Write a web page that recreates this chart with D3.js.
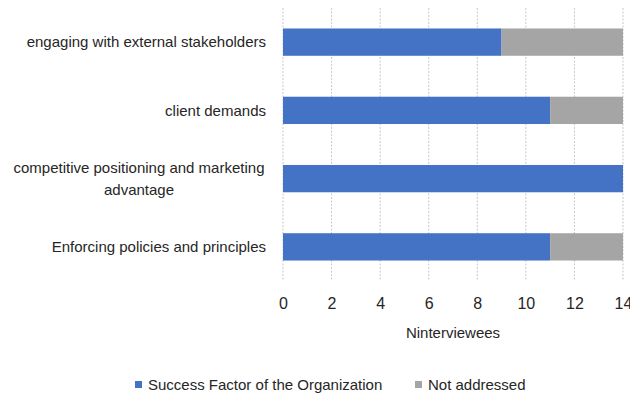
<!DOCTYPE html>
<html>
<head>
<meta charset="utf-8">
<script src="https://cdn.jsdelivr.net/npm/d3@7"></script>
<style>
  body { margin: 0; background: #fff; }
  text { font-family: "Liberation Sans", Arial, sans-serif; fill: #262626; }
</style>
</head>
<body>
<svg id="chart" width="630" height="399"></svg>
<script>
const categories = [
  ["engaging with external stakeholders"],
  ["client demands"],
  ["competitive positioning and marketing", "advantage"],
  ["Enforcing policies and principles"]
];
const successValues = [9, 11, 14, 11];
const notAddressedValues = [5, 3, 0, 3];
const seriesNames = ["Success Factor of the Organization", "Not addressed"];
const xTicks = [0, 2, 4, 6, 8, 10, 12, 14];
const colors = ["#4472C4", "#A5A5A5"];

const svg = d3.select("#chart");
const plotL = 283, plotR = 623, plotT = 8, plotB = 281;

const x = d3.scaleLinear().domain([0, 14]).range([plotL, plotR]);
const y = d3.scaleBand()
    .domain(d3.range(categories.length))
    .range([plotT, plotB])
    .paddingInner(0.6)
    .paddingOuter(0.3);

const rows = categories.map((c, i) => ({i: i, s: successValues[i], n: notAddressedValues[i]}));
const stack = d3.stack().keys(["s", "n"])(rows);

// grid
svg.append("g")
  .selectAll("line")
  .data(xTicks)
  .join("line")
    .attr("x1", d => x(d)).attr("x2", d => x(d))
    .attr("y1", plotT).attr("y2", plotB)
    .attr("stroke", "#c8c8c8")
    .attr("stroke-width", 1)
    .attr("stroke-dasharray", "2,1.5");

// bars
svg.append("g")
  .selectAll("g")
  .data(stack)
  .join("g")
    .attr("fill", (d, k) => colors[k])
  .selectAll("rect")
  .data(d => d)
  .join("rect")
    .attr("x", d => x(d[0]))
    .attr("y", d => y(d.data.i))
    .attr("width", d => x(d[1]) - x(d[0]))
    .attr("height", y.bandwidth());

// x axis
const xAxis = svg.append("g")
    .attr("transform", `translate(0,${plotB})`)
    .call(d3.axisBottom(x).tickValues(xTicks).tickSize(0).tickPadding(17));
xAxis.select(".domain").remove();
xAxis.selectAll("text").style("font-size", "16px").attr("fill", "#262626");

svg.append("text")
    .attr("x", (plotL + plotR) / 2)
    .attr("y", 338)
    .attr("text-anchor", "middle")
    .style("font-size", "15px")
    .text("Ninterviewees");

// y labels
const yl = svg.append("g");
categories.forEach((lines, i) => {
  const cy = y(i) + y.bandwidth() / 2;
  const t = yl.append("text")
      .attr("y", cy - (lines.length - 1) * 11)
      .attr("text-anchor", lines.length > 1 ? "middle" : "end")
      .style("font-size", "15px");
  lines.forEach((ln, j) => {
    t.append("tspan")
      .attr("x", lines.length > 1 ? 139 : 266)
      .attr("dy", j === 0 ? "0.35em" : 22)
      .text(ln);
  });
});

// legend
const legendX = [135, 415];
const lg = svg.append("g");
seriesNames.forEach((name, k) => {
  lg.append("rect")
    .attr("x", legendX[k]).attr("y", 381)
    .attr("width", 7).attr("height", 7)
    .attr("fill", colors[k]);
  lg.append("text")
    .attr("x", legendX[k] + 13).attr("y", 385)
    .attr("dy", "0.35em")
    .style("font-size", "15px")
    .text(name);
});
</script>
</body>
</html>
